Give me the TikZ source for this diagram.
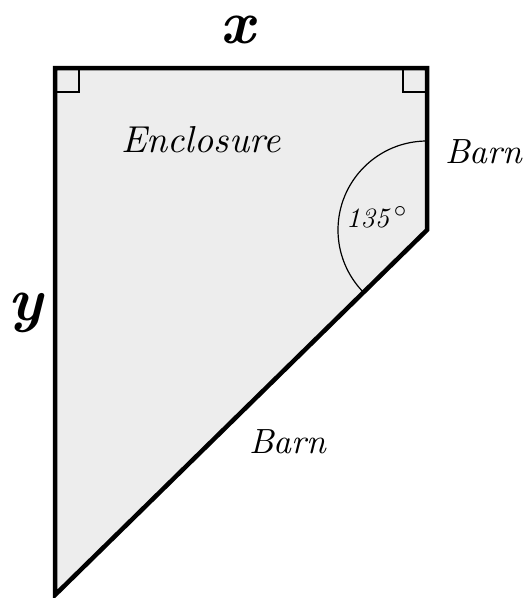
\documentclass[tikz,border=0pt]{standalone}
\usepackage{fontspec}
\setmainfont{lmroman10}[Extension=.otf, UprightFont=*-regular, ItalicFont=*-italic, BoldFont=*-bold, BoldItalicFont=*-bolditalic]
\begin{document}
\begin{tikzpicture}[x=1pt,y=-1pt,
  wall/.style={line width=4.5pt, line join=miter},
  thin/.style={line width=1.2pt},
  lbl/.style={inner sep=0pt, anchor=base west, font=\itshape\fontsize{35}{42}\selectfont},
  varlbl/.style={inner sep=0pt, anchor=base, font=\bfseries\itshape\fontsize{61}{68}\selectfont}]
\useasboundingbox (0,0) rectangle (524,598);
\definecolor{enclfill}{HTML}{EDEDED}
\coordinate (A) at (55,68);
\coordinate (B) at (427,68);
\coordinate (C) at (427,230);
\coordinate (D) at (55,595);
\coordinate (arcstart) at (427,141);
\fill[enclfill] (A) -- (B) -- (C) -- (D) -- cycle;
% right-angle marks
\draw[thin] (55,92) -- (79,92) -- (79,68);
\draw[thin] (403,68) -- (403,92) -- (427,92);
% angle arc
\draw[thin] (arcstart) arc[start angle=90, end angle=225, radius=89pt];
\draw[wall] (A) -- (B) -- (C) -- (D) -- cycle;
% labels
\node[varlbl] (xl) at (238,43) {x};
\node[varlbl] (yl) at (26,320) {y};
\node[lbl, font=\itshape\fontsize{37.5}{44}\selectfont] (encl) at (121,152) {Enclosure};
\node[lbl] (barn1) at (445,163) {Barn};
\node[lbl] (barn2) at (249,453) {Barn};
\node[lbl, font=\itshape\fontsize{28}{34}\selectfont] (ang) at (346,227) {135\,{\fontsize{36}{40}\selectfont$^{\circ}$}};
\end{tikzpicture}
\end{document}
